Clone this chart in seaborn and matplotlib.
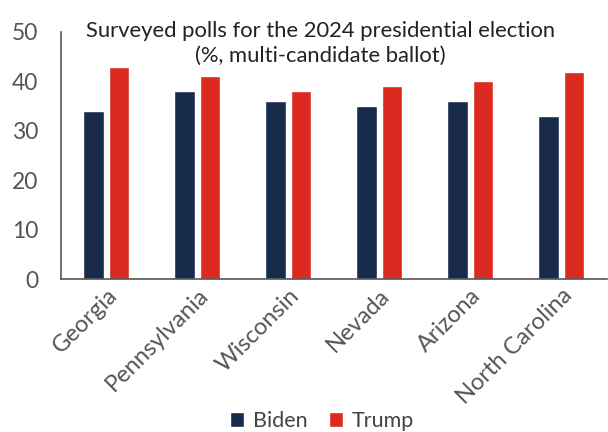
import matplotlib
matplotlib.use("Agg")
import matplotlib.pyplot as plt
import seaborn as sns
import pandas as pd
import numpy as np
from matplotlib.patches import Patch

states = ["Georgia", "Pennsylvania", "Wisconsin", "Nevada", "Arizona", "North Carolina"]
biden = [34, 38, 36, 35, 36, 33]
trump = [43, 41, 38, 39, 40, 42]
series = ["Biden", "Trump"]
colors = ["#182B4A", "#DC2A20"]

df = pd.DataFrame({
    "state": states * 2,
    "value": biden + trump,
    "candidate": ["Biden"] * len(states) + ["Trump"] * len(states),
})

sns.set_style("white")
plt.rcParams["font.family"] = ["Lato", "DejaVu Sans"]

fig = plt.figure(figsize=(6.08, 4.32), dpi=100)
ax = fig.add_axes([0.100, 0.354, 0.898, 0.572])

sns.barplot(data=df, x="state", y="value", hue="candidate", palette=colors,
            width=0.56, gap=0.2, ax=ax, legend=False, saturation=1)

ax.set_ylim(0, 50)
ax.set_xlim(-0.5, len(states) - 0.5)
ax.set_yticks([0, 10, 20, 30, 40, 50])
ax.set_xlabel("")
ax.set_ylabel("")
for s in ["top", "right"]:
    ax.spines[s].set_visible(False)
for s in ["left", "bottom"]:
    ax.spines[s].set_color("#555555")
    ax.spines[s].set_linewidth(1.2)

ax.set_xticks(range(len(states)))
ax.set_xticklabels(states, rotation=45, ha="right", rotation_mode="anchor",
                   fontsize=17, color="#555555")
ax.set_xticks(np.arange(-0.5, len(states)), minor=True)
ax.tick_params(axis="x", which="major", length=0, pad=4)
ax.tick_params(axis="x", which="minor", length=6, width=1.2, color="#555555", direction="out")
ax.tick_params(axis="y", length=6, width=1.2, color="#555555", direction="out",
               labelsize=16.5, labelcolor="#555555", pad=10)

ax.text(0.475, 0.955, "Surveyed polls for the 2024 presidential election\n(%, multi-candidate ballot)",
        transform=ax.transAxes, ha="center", va="center", fontsize=15.8,
        color="#222222", linespacing=1.3)

handles = [Patch(facecolor=c, label=l) for c, l in zip(colors, series)]
fig.legend(handles=handles, loc="center", bbox_to_anchor=(0.53, 0.025), ncol=2,
           frameon=False, fontsize=15.5, handlelength=0.65, handleheight=0.65,
           handletextpad=0.4, columnspacing=1.0, labelcolor="#444444")

fig.savefig("out.png", dpi=100)
